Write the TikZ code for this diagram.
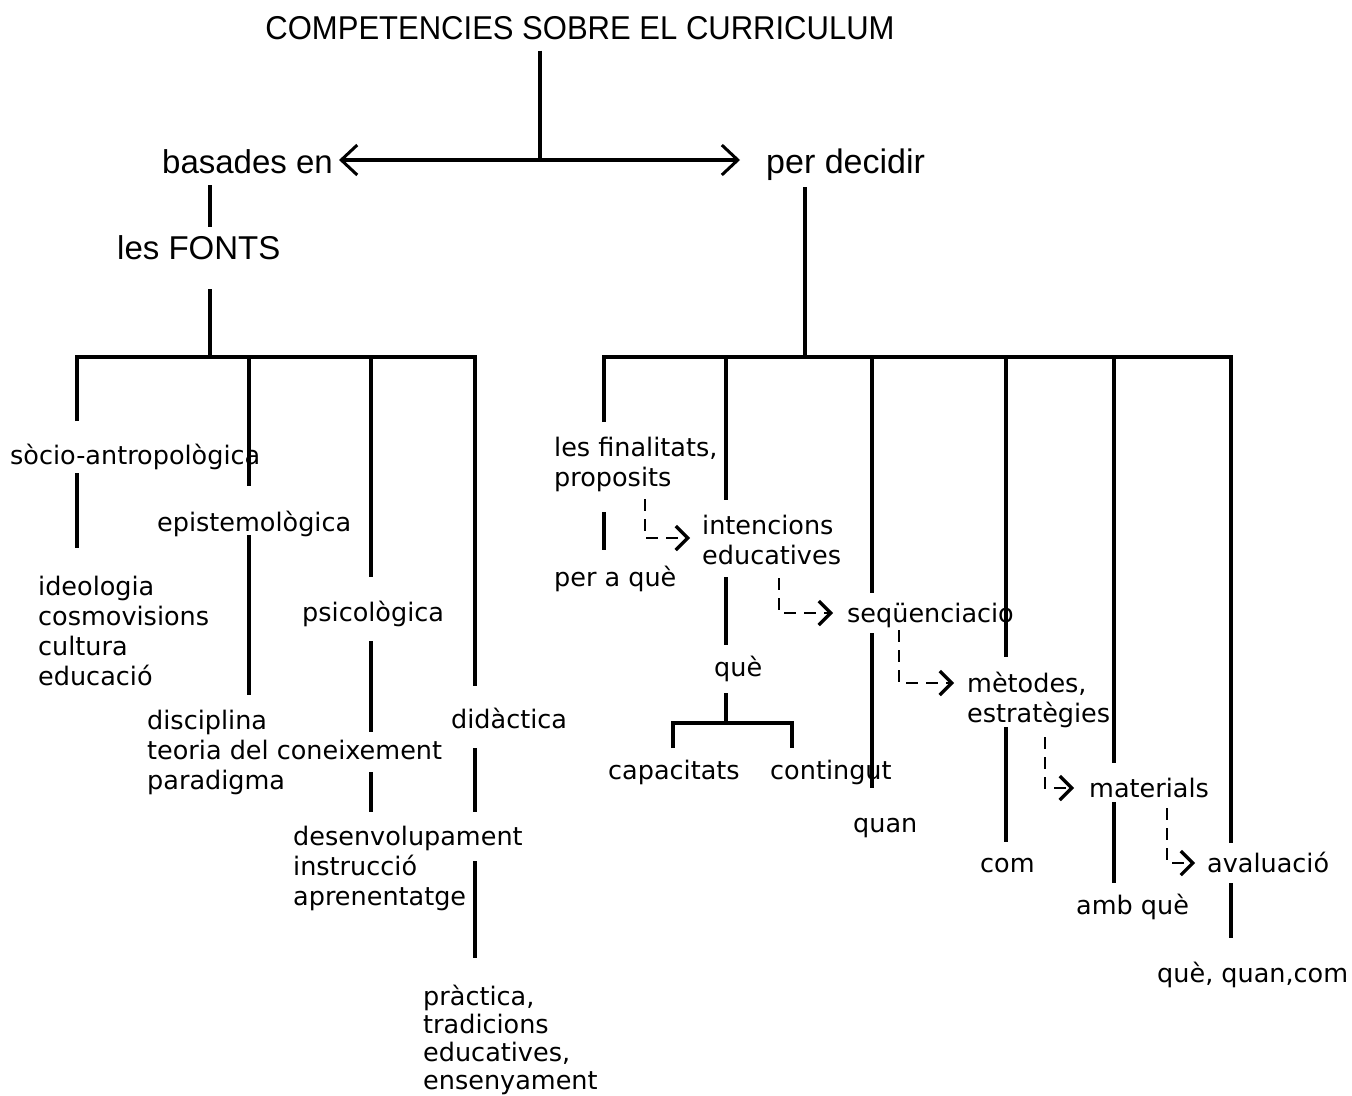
\documentclass[tikz,border=0pt]{standalone}
\usepackage{fontspec}
\setmainfont{DejaVu Sans}
\newfontfamily\headfont{Liberation Sans}
\newfontfamily\titlefont[FakeStretch=0.94]{Liberation Sans}
\usetikzlibrary{arrows.meta}

\begin{document}
\begin{tikzpicture}[x=1pt,y=-1pt,
  head/.style={font=\headfont\fontsize{33}{38}\selectfont, inner sep=0pt},
  lbl/.style={font=\fontsize{25.5}{30}\selectfont, inner sep=0pt, anchor=base west, align=left},
  ln/.style={line width=3.2pt},
  dsh/.style={line width=2.6pt, dash pattern=on 12pt off 8pt},
  bigtip/.style={-{Straight Barb[length=16pt,width=30pt,line width=3pt]}},
  smalltip/.style={-{Straight Barb[length=12pt,width=24pt,line width=3.2pt]}}]

\useasboundingbox[fill=white] (0,0) rectangle (1352,1095);

% ---- heading and the two main branches
\node[head, font=\titlefont\fontsize{33}{38}\selectfont, anchor=base] (title) at (580,39) {COMPETENCIES SOBRE EL CURRICULUM};
\node[head, anchor=base west] (bas) at (162,173) {basades en};
\node[head, anchor=base west, font=\headfont\fontsize{34}{38}\selectfont] (dec) at (766,173) {per decidir};
\node[head, anchor=base west] (fonts) at (117,259) {les FONTS};

\coordinate (hub) at (540,160);
\draw[ln] ([yshift=-11pt]title.south -| hub) -- (hub);
\draw[ln, bigtip] (hub) -- ([xshift=6pt]bas.east |- hub);
\draw[ln, bigtip] (hub) -- ([xshift=-26pt]dec.west |- hub);

% ---- left tree: the sources (multi-line labels sit on their last baseline)
\node[lbl] (socio) at (10,464) {sòcio-antropològica};
\node[lbl] (ideo) at (38,685) {ideologia\\cosmovisions\\cultura\\educació};
\node[lbl] (epis) at (157,531) {epistemològica};
\node[lbl] (disc) at (147,789) {disciplina\\teoria del coneixement\\paradigma};
\node[lbl] (psic) at (302,621) {psicològica};
\node[lbl] (desen) at (293,905) {desenvolupament\\instrucció\\aprenentatge};
\node[lbl] (dida) at (451,728) {didàctica};
\node[lbl, font=\fontsize{25.5}{28}\selectfont] (prac) at (423,1089) {pràctica,\\tradicions\\educatives,\\ensenyament};

\coordinate (la) at (77,357);
\coordinate (lb) at (249,357);
\coordinate (lc) at (371,357);
\coordinate (ld) at (475,357);

\draw[ln] (210,185) -- (210,227);
\draw[ln] (210,289) -- (210,357);
\draw[ln] ([yshift=-64pt]la) -- (la) -- (ld) -- ++(0,329);
\draw[ln] (lb) -- ++(0,129);
\draw[ln] (lc) -- ++(0,220);
\draw[ln] (77,473) -- (77,548);
\draw[ln] (249,535) -- (249,695);
\draw[ln] (371,641) -- (371,732);
\draw[ln] (371,772) -- (371,812);
\draw[ln] (475,748) -- (475,812);
\draw[ln] (475,861) -- (475,958);

% ---- right tree: what is decided
\node[lbl] (fin) at (554,486) {les finalitats,\\proposits};
\node[lbl] (pera) at (554,586) {per a què};
\node[lbl] (int) at (702,564) {intencions\\educatives};
\node[lbl] (que) at (714,676) {què};
\node[lbl] (cap) at (608,779) {capacitats};
\node[lbl] (cont) at (770,779) {contingut};
\node[lbl] (seq) at (847,622) {seqüenciacio};
\node[lbl] (quan) at (853,832) {quan};
\node[lbl] (met) at (967,722) {mètodes,\\estratègies};
\node[lbl] (com) at (980,872) {com};
\node[lbl] (mat) at (1089,797) {materials};
\node[lbl] (amb) at (1076,914) {amb què};
\node[lbl] (ava) at (1207,872) {avaluació};
\node[lbl] (qqc) at (1157,982) {què, quan,com};

\coordinate (ra) at (604,357);
\coordinate (rb) at (726,357);
\coordinate (rc) at (872,357);
\coordinate (rd) at (1006,357);
\coordinate (re) at (1114,357);
\coordinate (rf) at (1231,357);

\draw[ln] (805,187) -- (805,357);
\draw[ln] ([yshift=-65pt]ra) -- (ra) -- (rf) -- ++(0,486);
\draw[ln] (rb) -- ++(0,143);
\draw[ln] (rc) -- ++(0,236);
\draw[ln] (rd) -- ++(0,300);
\draw[ln] (re) -- ++(0,406);
\draw[ln] (604,512) -- (604,550);
\draw[ln] (726,577) -- (726,645);
\draw[ln] (726,693) -- (726,723);
\draw[ln] (673,748) -- (673,723) -- (792,723) -- (792,748);
\draw[ln] (872,633) -- (872,788);
\draw[ln] (1006,727) -- (1006,842);
\draw[ln] (1114,802) -- (1114,883);
\draw[ln] (1231,883) -- (1231,938);

% ---- dashed chain of decisions
\draw[dsh, smalltip] ([xshift=91pt,yshift=-13pt]fin.base west) |- ([xshift=-12pt,yshift=26pt]int.base west);
\draw[dsh, smalltip] ([xshift=77pt,yshift=-14pt]int.base west) |- ([xshift=-14pt,yshift=9pt]seq.base west);
\draw[dsh, smalltip] ([xshift=52pt,yshift=-8pt]seq.base west) |- ([xshift=-13pt,yshift=39pt]met.base west);
\draw[dsh, smalltip] ([xshift=78pt,yshift=-15pt]met.base west) |- ([xshift=-15pt,yshift=9pt]mat.base west);
\draw[dsh, smalltip] ([xshift=78pt,yshift=-11pt]mat.base west) |- ([xshift=-12pt,yshift=9pt]ava.base west);

\end{tikzpicture}
\end{document}
